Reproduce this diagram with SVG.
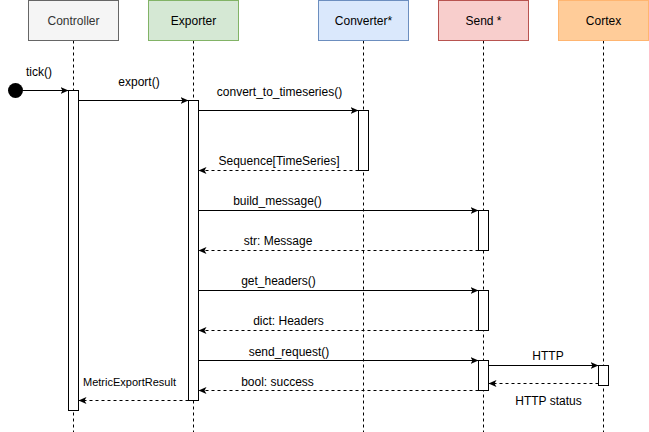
<svg xmlns="http://www.w3.org/2000/svg" width="649" height="432" viewBox="0 0 649 432">
<style>
text{font-family:"Liberation Sans",Arial,Helvetica,sans-serif;font-size:12px;fill:#000}
.hdr text{fill:#000}
.life{stroke:#000;stroke-dasharray:3 3;fill:none}
.bar{fill:#fff;stroke:#000}
.msg{stroke:#000;fill:none;marker-end:url(#ah)}
.ret{stroke:#000;fill:none;stroke-dasharray:3 3;marker-end:url(#ah)}
</style>
<defs>
<marker id="ah" markerUnits="userSpaceOnUse" markerWidth="10" markerHeight="10" refX="8" refY="4" orient="auto">
<path d="M0,0.5 L8,4 L0,7.5 L2,4 z" fill="#000"/>
</marker>
</defs>
<rect width="649" height="432" fill="#fff"/>
<g id="lifelines">
<line class="life" x1="73.5" y1="40.5" x2="73.5" y2="432"/>
<line class="life" x1="193.5" y1="40.5" x2="193.5" y2="432"/>
<line class="life" x1="363.5" y1="40.5" x2="363.5" y2="432"/>
<line class="life" x1="483.5" y1="40.5" x2="483.5" y2="432"/>
<line class="life" x1="603.5" y1="40.5" x2="603.5" y2="432"/>
</g>
<g id="controller" class="hdr">
<rect x="28.5" y="0.5" width="90" height="40" fill="#f5f5f5" stroke="#666666"/>
<text x="73.5" y="24.5" text-anchor="middle" style="fill:#333333">Controller</text>
</g>
<g id="exporter" class="hdr">
<rect x="148.5" y="0.5" width="90" height="40" fill="#d5e8d4" stroke="#82b366"/>
<text x="193.5" y="24.5" text-anchor="middle">Exporter</text>
</g>
<g id="converter" class="hdr">
<rect x="318.5" y="0.5" width="90" height="40" fill="#dae8fc" stroke="#6c8ebf"/>
<text x="363.5" y="24.5" text-anchor="middle">Converter*</text>
</g>
<g id="send" class="hdr">
<rect x="438.5" y="0.5" width="90" height="40" fill="#f8cecc" stroke="#b85450"/>
<text x="483.5" y="24.5" text-anchor="middle">Send *</text>
</g>
<g id="cortex" class="hdr">
<rect x="558.5" y="0.5" width="90" height="40" fill="#ffcc99" stroke="#ffb570"/>
<text x="603.5" y="24.5" text-anchor="middle">Cortex</text>
</g>
<g id="activations">
<rect class="bar" x="68.5" y="90.5" width="10" height="320"/>
<rect class="bar" x="188.5" y="100.5" width="10" height="300"/>
<rect class="bar" x="358.5" y="110.5" width="10" height="60"/>
<rect class="bar" x="478.5" y="210.5" width="10" height="40"/>
<rect class="bar" x="478.5" y="290.5" width="10" height="40"/>
<rect class="bar" x="478.5" y="360.5" width="10" height="30"/>
<rect class="bar" x="598.5" y="365.5" width="10" height="20"/>
</g>
<g id="start">
<circle cx="15.5" cy="90.5" r="7.5" fill="#000"/>
</g>
<g id="connectors">
<line class="msg" x1="23" y1="90.5" x2="68.5" y2="90.5"/>
<line class="msg" x1="78.5" y1="100.5" x2="188.5" y2="100.5"/>
<line class="msg" x1="198.5" y1="110.5" x2="358.5" y2="110.5"/>
<line class="ret" x1="358.5" y1="170.5" x2="198.5" y2="170.5"/>
<line class="msg" x1="198.5" y1="210.5" x2="478.5" y2="210.5"/>
<line class="ret" x1="478.5" y1="250.5" x2="198.5" y2="250.5"/>
<line class="msg" x1="198.5" y1="290.5" x2="478.5" y2="290.5"/>
<line class="ret" x1="478.5" y1="330.5" x2="198.5" y2="330.5"/>
<line class="msg" x1="198.5" y1="360.5" x2="478.5" y2="360.5"/>
<line class="ret" x1="478.5" y1="390.5" x2="198.5" y2="390.5"/>
<line class="msg" x1="488.5" y1="365.5" x2="598.5" y2="365.5"/>
<line class="ret" x1="598.5" y1="383.5" x2="488.5" y2="383.5"/>
<line class="ret" x1="188.5" y1="400.5" x2="78.5" y2="400.5"/>
</g>
<g id="labels">
<text x="39" y="76" text-anchor="middle">tick()</text>
<text x="139" y="85.5" text-anchor="middle">export()</text>
<text x="279.5" y="96" text-anchor="middle">convert_to_timeseries()</text>
<text x="279" y="164.5" text-anchor="middle">Sequence[TimeSeries]</text>
<text x="277.5" y="205" text-anchor="middle">build_message()</text>
<text x="278" y="245" text-anchor="middle">str: Message</text>
<text x="278.5" y="285" text-anchor="middle">get_headers()</text>
<text x="288.5" y="324.5" text-anchor="middle">dict: Headers</text>
<text x="289" y="355.5" text-anchor="middle">send_request()</text>
<text x="277.5" y="385.5" text-anchor="middle">bool: success</text>
<text x="129.5" y="385.5" text-anchor="middle" style="font-size:11px">MetricExportResult</text>
<text x="548" y="359.5" text-anchor="middle">HTTP</text>
<text x="548.5" y="405" text-anchor="middle">HTTP status</text>
</g>
</svg>
